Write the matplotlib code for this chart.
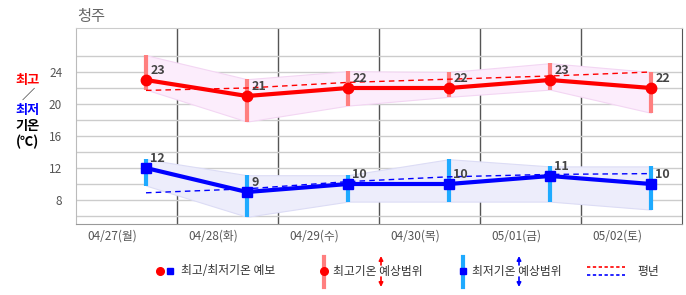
import numpy as np
import matplotlib.pyplot as plt
from matplotlib.lines import Line2D

plt.rcParams['font.family'] = ['Noto Sans CJK KR', 'DejaVu Sans']

days = ['04/27(월)', '04/28(화)', '04/29(수)', '04/30(목)', '05/01(금)', '05/02(토)']
max_temp = [23, 21, 22, 22, 23, 22]
max_hi = [26.1, 23.1, 24.1, 24.0, 25.1, 24.0]
max_lo = [21.8, 17.8, 19.8, 20.9, 21.8, 18.9]
min_temp = [12, 9, 10, 10, 11, 10]
min_hi = [13.1, 11.1, 11.1, 13.1, 12.2, 12.2]
min_lo = [9.8, 5.9, 7.8, 7.8, 7.8, 6.8]
normal_max = [21.7, 22.0, 22.7, 23.1, 23.5, 24.0]
normal_min = [8.9, 9.4, 10.3, 10.9, 11.2, 11.3]

W, H = 686, 295


def px(x, y):
    # pixel position (from top-left) -> figure fraction
    return x / W, 1 - y / H


fig = plt.figure(figsize=(W / 100, H / 100), dpi=100)
ax = fig.add_axes([76 / W, 1 - 224 / H, (682 - 76) / W, (224 - 28) / H])
x = np.arange(len(days))

# ranges (bands + bars)
ax.fill_between(x, max_lo, max_hi, facecolor='#fcedfc', edgecolor='#f3d6f3', lw=0.8, zorder=1)
ax.fill_between(x, min_lo, min_hi, facecolor='#ededfb', edgecolor='#dcdcf5', lw=0.8, zorder=1)
ax.vlines(x, max_lo, max_hi, color='#ff7f7f', lw=3, zorder=3)
ax.vlines(x, min_lo, min_hi, color='#1eaaff', lw=3, zorder=3)

# normals
ax.plot(x, normal_max, color='red', lw=1, ls=(0, (4, 3)), zorder=4)
ax.plot(x, normal_min, color='blue', lw=1, ls=(0, (4, 3)), zorder=4)

# forecasts
ax.plot(x, max_temp, color='red', lw=3, marker='o', ms=7.5, zorder=5)
ax.plot(x, min_temp, color='blue', lw=3, marker='s', ms=7, zorder=5)

for xi, v in zip(x, max_temp):
    ax.annotate(str(v), (xi, v), xytext=(3, 2), textcoords='offset points',
                ha='left', va='bottom', fontsize=9, fontweight='bold', color='#444', zorder=6)
for xi, v in zip(x, min_temp):
    ax.annotate(str(v), (xi, v), xytext=(3, 2), textcoords='offset points',
                ha='left', va='bottom', fontsize=9, fontweight='bold', color='#444', zorder=6)

ax.set_xlim(-0.693, 5.307)
ax.set_ylim(5.0, 29.5)
ax.set_yticks([8, 12, 16, 20, 24])
ax.set_yticks(np.arange(6, 27, 2), minor=True)
ax.grid(axis='y', which='both', color='#cccccc', lw=1, zorder=0)
ax.set_xticks(x - 0.337)
ax.set_xticklabels(days)
for i in range(len(days) - 1):
    ax.axvline(i + 0.307, color='#555555', lw=1, zorder=0.5)
ax.tick_params(axis='both', which='both', length=0, colors='#555555', labelsize=8.5)
ax.tick_params(axis='y', pad=10)
ax.tick_params(axis='x', pad=4)
ax.set_axisbelow(True)
ax.spines['left'].set_color('#bbbbbb')
ax.spines['top'].set_color('#cccccc')
ax.spines['bottom'].set_color('#999999')
ax.spines['right'].set_color('#555555')

# title and y label
fig.text(*px(77, 16), '청주', fontsize=11, color='#666666', va='center')
ylab = [('최고', 'red', 80), ('／', '#333333', 95), ('최저', 'blue', 110),
        ('기온', 'black', 126), ('(℃)', 'black', 142)]
for s, c, yy in ylab:
    fig.text(*px(28, yy), s, color=c, fontsize=9.5, fontweight='bold', ha='center', va='center')

# legend
ly = 271
fig.add_artist(Line2D(*zip(px(160, ly)), marker='o', color='red', ms=5.5, transform=fig.transFigure))
fig.add_artist(Line2D(*zip(px(170, ly)), marker='s', color='blue', ms=5, transform=fig.transFigure))
fig.text(*px(181, ly), '최고/최저기온 예보', fontsize=8.5, color='#333333', va='center')

fig.add_artist(Line2D(*zip(px(324, 257), px(324, 287)), color='#ff7f7f', lw=3, transform=fig.transFigure))
fig.add_artist(Line2D(*zip(px(324, ly)), marker='o', color='red', ms=5.5, transform=fig.transFigure))
fig.text(*px(333, ly), '최고기온 예상범위', fontsize=8.5, color='#333333', va='center')

fig.add_artist(Line2D(*zip(px(463, 257), px(463, 287)), color='#1eaaff', lw=3, transform=fig.transFigure))
fig.add_artist(Line2D(*zip(px(463, ly)), marker='s', color='blue', ms=5, transform=fig.transFigure))
fig.text(*px(472, ly), '최저기온 예상범위', fontsize=8.5, color='#333333', va='center')

for ax_x, c in [(381, 'red'), (519, 'blue')]:
    for y0, y1 in [(265, 256), (277, 287)]:
        ax.annotate('', xy=(ax_x, H - y1), xytext=(ax_x, H - y0), xycoords='figure pixels',
                    textcoords='figure pixels', annotation_clip=False,
                    arrowprops=dict(arrowstyle='-|>', color=c, lw=1.2, mutation_scale=6,
                                    shrinkA=0, shrinkB=0))

fig.add_artist(Line2D(*zip(px(587, 267), px(625, 267)), color='red', lw=1.2, ls=(0, (2, 1.5)),
                      transform=fig.transFigure))
fig.add_artist(Line2D(*zip(px(587, 275), px(625, 275)), color='blue', lw=1.2, ls=(0, (2, 1.5)),
                      transform=fig.transFigure))
fig.text(*px(637, ly), '평년', fontsize=8.5, color='#333333', va='center')

fig.savefig('out.png', dpi=100)
